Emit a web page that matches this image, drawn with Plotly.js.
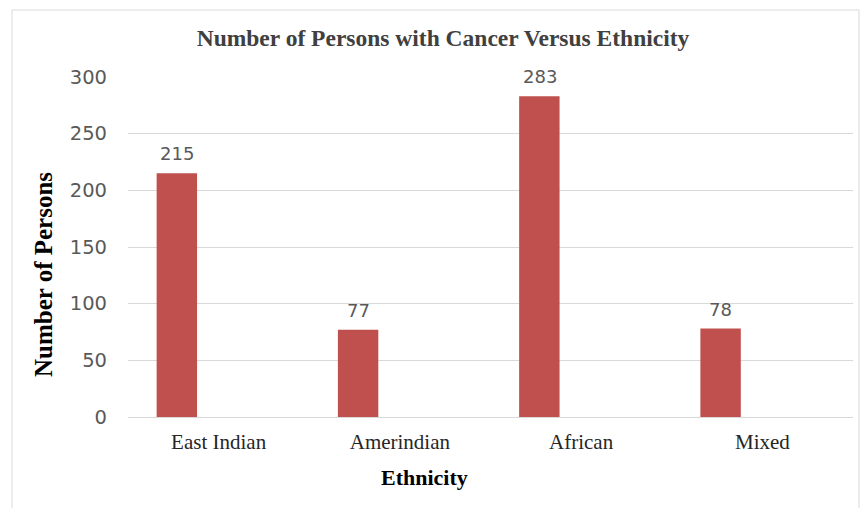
<!DOCTYPE html>
<html>
<head>
<meta charset="utf-8">
<script src="https://cdn.plot.ly/plotly-3.0.1.min.js"></script>
<style>
  html, body { margin: 0; padding: 0; background: #ffffff; }
  #chart { width: 863px; height: 508px; }
</style>
</head>
<body>
<div id="chart"></div>
<script>
// Cancer cases by ethnicity
const ethnicities = ['East Indian', 'Amerindian', 'African', 'Mixed'];
const persons = [215, 77, 283, 78];
const yTicks = [0, 50, 100, 150, 200, 250, 300];

const barColor = '#C0504D';
const serif = '"Liberation Serif", "Times New Roman", serif';
const sans = '"DejaVu Sans", "Open Sans", sans-serif';

// plot area in pixels
const L = 128, R = 853, T = 77, B = 417, W = 863, H = 508;
const pw = R - L, ph = B - T;
const px = v => (v - L) / pw;   // pixel -> paper x
const py = v => (B - v) / ph;   // pixel -> paper y

const bars = {
  type: 'bar',
  x: ethnicities,
  y: persons,
  width: 0.223,
  offset: -0.342,
  marker: { color: barColor },
  hoverinfo: 'x+y'
};

// value labels above each bar
const valueLabels = ethnicities.map((c, i) => ({
  x: c, y: persons[i], xref: 'x', yref: 'y',
  text: String(persons[i]),
  showarrow: false,
  xshift: -41.5, yshift: 7,
  yanchor: 'bottom', xanchor: 'center',
  font: { family: sans, size: 18, color: '#595959' }
}));

const layout = {
  width: W, height: H,
  margin: { l: L, r: W - R, t: T, b: H - B, pad: 0 },
  paper_bgcolor: '#ffffff',
  plot_bgcolor: '#ffffff',
  showlegend: false,
  title: {
    text: 'Number of Persons with Cancer Versus Ethnicity',
    font: { family: serif, size: 23.5, color: '#404040', weight: 'bold' },
    x: 443 / W, xanchor: 'center',
    y: 1 - 38 / H, yanchor: 'middle'
  },
  xaxis: {
    type: 'category',
    range: [-0.5, 3.5],
    showgrid: false,
    showline: true, linecolor: '#d9d9d9', linewidth: 1,
    ticks: '', ticklen: 0,
    tickfont: { family: serif, size: 21, color: '#262626' },
    ticklabelstandoff: 6,
    zeroline: false,
    fixedrange: true
  },
  yaxis: {
    range: [0, 300],
    tickvals: yTicks,
    showgrid: true, gridcolor: '#d9d9d9', gridwidth: 1,
    zeroline: false, showline: false,
    ticks: '',
    tickfont: { family: sans, size: 19.5, color: '#595959' },
    ticklabelstandoff: 20,
    fixedrange: true
  },
  annotations: valueLabels.concat([
    {
      text: '<b>Number of Persons</b>',
      xref: 'paper', yref: 'paper',
      x: px(43), y: py(275),
      textangle: -90, showarrow: false,
      xanchor: 'center', yanchor: 'middle',
      font: { family: serif, size: 25, color: '#000000' }
    },
    {
      text: '<b>Ethnicity</b>',
      xref: 'paper', yref: 'paper',
      x: px(424), y: py(477),
      showarrow: false,
      xanchor: 'center', yanchor: 'middle',
      font: { family: serif, size: 22, color: '#000000' }
    }
  ]),
  shapes: [
    {
      type: 'rect', xref: 'paper', yref: 'paper',
      x0: px(12), x1: px(859), y0: py(515), y1: py(10),
      line: { color: '#d9d9d9', width: 1 },
      fillcolor: 'rgba(0,0,0,0)',
      layer: 'below'
    }
  ]
};

Plotly.newPlot('chart', [bars], layout, { displayModeBar: false, staticPlot: true });
</script>
</body>
</html>
